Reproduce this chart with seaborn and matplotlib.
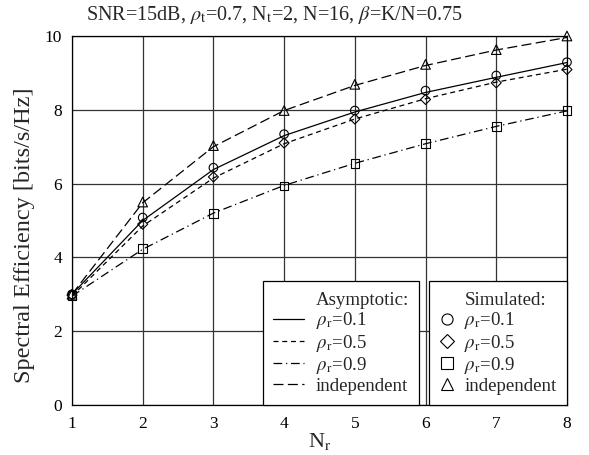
import matplotlib
matplotlib.use("Agg")
import matplotlib.pyplot as plt
from matplotlib.lines import Line2D
import seaborn as sns
import pandas as pd

Nr = [1, 2, 3, 4, 5, 6, 7, 8]

# Asymptotic curves
asym_r01 = [3.0, 5.0, 6.38, 7.30, 7.94, 8.47, 8.88, 9.28]
asym_r05 = [2.95, 4.85, 6.15, 7.08, 7.75, 8.30, 8.75, 9.10]
asym_r09 = [2.95, 4.22, 5.20, 5.95, 6.55, 7.08, 7.55, 7.97]
asym_ind = [3.0, 5.48, 7.00, 7.98, 8.66, 9.20, 9.62, 9.96]

# Simulated points
sim_r01 = [3.0, 5.08, 6.43, 7.34, 7.98, 8.52, 8.93, 9.29]
sim_r05 = [2.98, 4.90, 6.18, 7.10, 7.75, 8.28, 8.73, 9.09]
sim_r09 = [2.97, 4.24, 5.19, 5.93, 6.55, 7.09, 7.55, 7.98]
sim_ind = [3.0, 5.50, 7.03, 7.98, 8.69, 9.23, 9.63, 10.0]

labels = [r'$\rho_{\rm r}$=0.1', r'$\rho_{\rm r}$=0.5', r'$\rho_{\rm r}$=0.9', 'independent']
title_text = r'SNR=15dB, $\rho_{\rm t}$=0.7, N$_{\rm t}$=2, N=16, $\beta$=K/N=0.75'

sns.set_style("white")
plt.rcParams['font.family'] = ['Liberation Serif', 'DejaVu Serif']
plt.rcParams['mathtext.fontset'] = 'stix'

fig = plt.figure(figsize=(5.89, 4.55), dpi=100)
ax = fig.add_axes([0.1222, 0.1099, 0.8404, 0.8110])

styles = ['-', (0, (4, 3)), (0, (7, 3, 1, 3)), (0, (8, 3.5))]
asym = [asym_r01, asym_r05, asym_r09, asym_ind]
sims = [sim_r01, sim_r05, sim_r09, sim_ind]
markers = ['o', 'D', 's', '^']
msizes = [38, 26, 38, 48]

for y, ls in zip(asym, styles):
    df = pd.DataFrame({'Nr': Nr, 'SE': y})
    sns.lineplot(data=df, x='Nr', y='SE', ax=ax, color='black', linewidth=0.9,
                 linestyle=ls, legend=False)

for y, m, s in zip(sims, markers, msizes):
    df = pd.DataFrame({'Nr': Nr, 'SE': y})
    sns.scatterplot(data=df, x='Nr', y='SE', ax=ax, marker=m, s=s,
                    facecolors='none', edgecolor='black', linewidth=0.8,
                    legend=False, zorder=5, clip_on=False)

ax.set_xlim(1, 8)
ax.set_ylim(0, 10)
ax.set_xticks(Nr)
ax.set_yticks([0, 2, 4, 6, 8, 10])
ax.grid(True, color='#333333', linewidth=0.9)
for sp in ax.spines.values():
    sp.set_color('black')
    sp.set_linewidth(0.9)
ax.tick_params(axis='both', length=0, labelsize=12.5, colors='black')
ax.tick_params(axis='x', pad=8)
ax.tick_params(axis='y', pad=7)

ax.set_xlabel(r'N$_{\rm r}$', fontsize=16)
ax.xaxis.set_label_coords(0.5, -0.127)
ax.xaxis.label.set_va('bottom')
ax.set_ylabel('Spectral Efficiency [bits/s/Hz]', fontsize=17.5)
ax.yaxis.set_label_coords(-0.075, 0.46)
ax.text(0.409, 1 + 16 / 369, title_text, transform=ax.transAxes,
        ha='center', va='baseline', fontsize=14.5)

# Legends
blank = Line2D([], [], color='none')
h1 = [blank] + [Line2D([], [], color='black', linewidth=0.9, linestyle=ls) for ls in styles]
l1 = ['Asymptotic:'] + labels
h2 = [blank] + [Line2D([], [], color='black', linestyle='none', marker=m,
                       markerfacecolor='none', markersize=ms, markeredgewidth=0.8)
                for m, ms in zip(['o', 'D', 's', '^'], [8, 7, 8.5, 8.5])]
l2 = ['Simulated:'] + labels

common = dict(loc='lower right', borderaxespad=0, fontsize=13.6,
              labelspacing=0.07, fancybox=False, framealpha=1,
              edgecolor='black', borderpad=0.55)
leg1 = ax.legend(h1, l1, bbox_to_anchor=(0.7016, 0.0), handlelength=1.65,
                 handletextpad=0.6, **common)
leg1.get_frame().set_linewidth(0.9)
ax.add_artist(leg1)
leg2 = ax.legend(h2, l2, bbox_to_anchor=(1.0, 0.0), handlelength=0.8,
                 handletextpad=0.5, **common)
leg2.get_frame().set_linewidth(0.9)
leg1.set_zorder(10)
leg2.set_zorder(10)

fig.savefig('out.png', dpi=100)
